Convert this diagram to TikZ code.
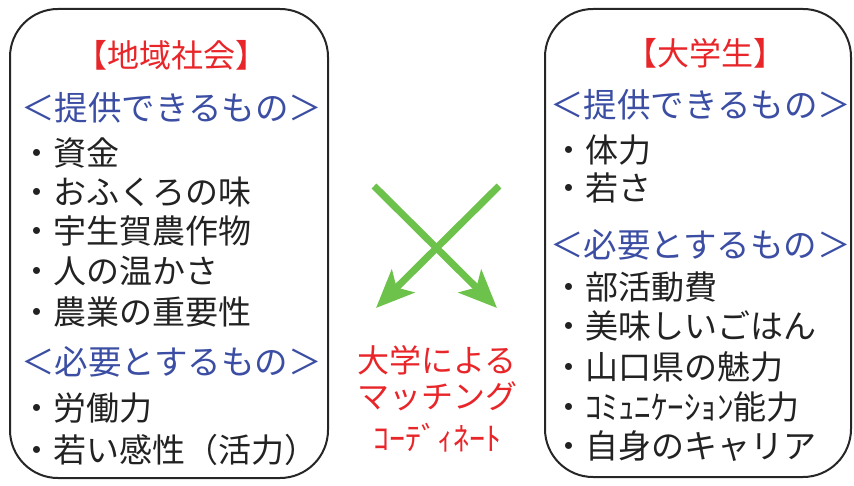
\documentclass[tikz,border=0pt]{standalone}
\usepackage{fontspec}
\setmainfont{Noto Sans CJK JP}
\usetikzlibrary{arrows.meta}
\definecolor{tred}{HTML}{E8262A}
\definecolor{tblue}{HTML}{3B4EA3}
\definecolor{tgreen}{HTML}{6CC24A}
\definecolor{ttext}{HTML}{222222}
\begin{document}
\begin{tikzpicture}[x=1pt,y=-1pt,
  panel/.style={draw=black!85, line width=2pt, rounded corners=48pt, inner sep=0},
  ttl/.style={text=tred, font=\fontsize{32}{32}\selectfont, inner sep=0},
  hdr/.style={text=tblue, font=\fontsize{33.5}{33.5}\selectfont, anchor=west, inner sep=0},
  itm/.style={text=ttext, font=\fontsize{33}{33}\selectfont, anchor=west, inner sep=0},
  mid/.style={text=tred, font=\fontsize{32}{32}\selectfont, inner sep=0},
  garrow/.style={draw=tgreen, line width=7pt, -{Stealth[length=38pt, width=32pt, inset=9pt]}}]
\useasboundingbox (0,0) rectangle (854,486);
% panels
\node (lbox) [panel, minimum width=318pt, minimum height=469pt] at (169,243.5) {};
\node (rbox) [panel, minimum width=306pt, minimum height=468pt] at (698,243) {};
% left panel
\node (lt) [ttl] at (171,55) {【地域社会】};
\node (lh1) [hdr] at (21,108) {＜提供できるもの＞};
\node (l1) [itm] at (20,153) {・資金};
\node (l2) [itm] at (20,192) {・おふくろの味};
\node (l3) [itm] at (20,231) {・宇生賀農作物};
\node (l4) [itm] at (20,271) {・人の温かさ};
\node (l5) [itm] at (20,312) {・農業の重要性};
\node (lh2) [hdr] at (21,362) {＜必要とするもの＞};
\node (l6) [itm] at (20,408) {・労働力};
\node (l7) [itm] at (20,450) {・若い感性（活力）};
% right panel
\node (rt) [ttl] at (705,53) {【大学生】};
\node (rh1) [hdr] at (550,105) {＜提供できるもの＞};
\node (r1) [itm] at (552,150) {・体力};
\node (r2) [itm] at (552,188) {・若さ};
\node (rh2) [hdr] at (550,245) {＜必要とするもの＞};
\node (r3) [itm] at (552,287) {・部活動費};
\node (r4) [itm] at (552,326) {・美味しいごはん};
\node (r5) [itm] at (552,367) {・山口県の魅力};
\node (r6) [itm] at (552,407) {・ｺﾐｭﾆｹｰｼｮﾝ能力};
\node (r7) [itm] at (552,446) {・自身のキャリア};
% arrows
\coordinate (a1s) at (374,186);
\coordinate (a1e) at (497,308);
\coordinate (a2s) at (499,186);
\coordinate (a2e) at (376,308);
\draw[garrow] (a1s) -- (a1e);
\draw[garrow] (a2s) -- (a2e);
% middle text
\node (m1) [mid] at (437,360) {大学による};
\node (m2) [mid] at (437,396) {マッチング};
\node (m3) [mid] at (437,438) {ｺｰﾃﾞｨﾈｰﾄ};
\end{tikzpicture}
\end{document}
